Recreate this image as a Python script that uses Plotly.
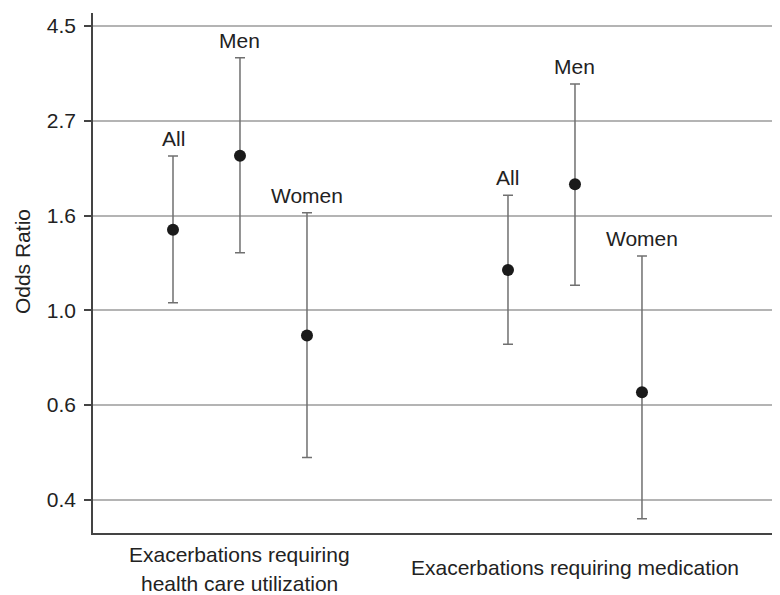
import numpy as np
import plotly.graph_objects as go

# ---- data ----
groups = ["Exacerbations requiring<br>health care utilization",
          "Exacerbations requiring medication"]
subgroups = ["All", "Men", "Women"]
or_hcu = [1.53, 2.26, 0.876]
lo_hcu = [1.04, 1.354, 0.460]
hi_hcu = [2.256, 3.79, 1.673]
or_med = [1.237, 1.944, 0.649]
lo_med = [0.836, 1.141, 0.333]
hi_med = [1.834, 3.30, 1.332]
tick_labels = ["0.4", "0.6", "1.0", "1.6", "2.7", "4.5"]

FONT = "Liberation Sans, Arial, Helvetica, sans-serif"
TXT = "#222222"
FS = 21

fig = go.Figure()
annotations = []
series = [(or_hcu, lo_hcu, hi_hcu), (or_med, lo_med, hi_med)]
for g, (est, lo, hi) in enumerate(series):
    xs = [g * 5 + s for s in range(len(subgroups))]
    est = np.array(est); lo = np.array(lo); hi = np.array(hi)
    fig.add_trace(go.Scatter(
        x=xs, y=est, mode="markers",
        marker=dict(color="#1a1a1a", size=12),
        error_y=dict(type="data", symmetric=False, array=hi - est,
                     arrayminus=est - lo, color="#707070",
                     thickness=1.5, width=5),
        showlegend=False, hoverinfo="skip"))
    for x, h, name in zip(xs, hi, subgroups):
        annotations.append(dict(x=x, y=np.log10(h), xref="x", yref="y",
                                text=name, showarrow=False, yanchor="bottom",
                                yshift=4, font=dict(size=FS, color=TXT, family=FONT)))

# category labels under axis
annotations.append(dict(x=1, y=0, xref="x", yref="paper", text="Exacerbations requiring",
                        showarrow=False, yanchor="middle", yshift=-21,
                        font=dict(size=FS, color=TXT, family=FONT)))
annotations.append(dict(x=1, y=0, xref="x", yref="paper", text="health care utilization",
                        showarrow=False, yanchor="middle", yshift=-50,
                        font=dict(size=FS, color=TXT, family=FONT)))
annotations.append(dict(x=6, y=0, xref="x", yref="paper", text=groups[1],
                        showarrow=False, yanchor="middle", yshift=-34,
                        font=dict(size=FS, color=TXT, family=FONT)))
# y-axis title
annotations.append(dict(x=0, y=0.521, xref="paper", yref="paper", text="Odds Ratio",
                        showarrow=False, textangle=-90, xanchor="center", xshift=-71,
                        font=dict(size=FS, color=TXT, family=FONT)))

tickvals = [float(v) for v in np.exp(np.arange(-1.0, 1.51, 0.5))]

fig.update_layout(
    width=772, height=587,
    margin=dict(l=85, r=0, t=5, b=62),
    paper_bgcolor="white", plot_bgcolor="white",
    annotations=annotations,
    xaxis=dict(range=[-1.194, 9.06], showgrid=False, zeroline=False,
               showticklabels=False, ticks="", showline=True,
               linecolor="#444444", linewidth=1.5),
    yaxis=dict(type="log", range=[-0.5101, 0.681], tickvals=tickvals,
               ticktext=tick_labels, showgrid=True, gridcolor="#b4b4b4",
               gridwidth=1.5, zeroline=False, showline=True,
               linecolor="#444444", linewidth=1.5, ticks="outside",
               ticklen=7, tickcolor="#444444", tickwidth=1.5,
               ticklabelstandoff=4,
               tickfont=dict(size=FS, color=TXT, family=FONT)),
)

fig.write_html("out.html")
